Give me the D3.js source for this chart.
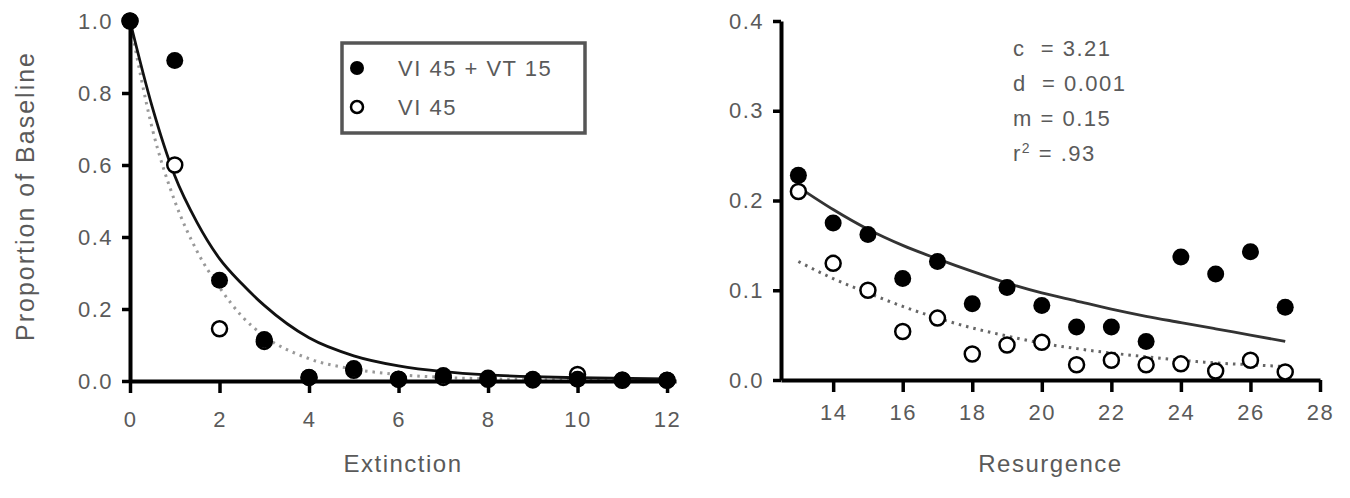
<!DOCTYPE html>
<html>
<head>
<meta charset="utf-8">
<script src="https://cdn.jsdelivr.net/npm/d3@7"></script>
<style>
  body { margin: 0; background: #fff; }
  text { font-family: "Liberation Sans", Arial, sans-serif; fill: #5a5a5a; white-space: pre; }
</style>
</head>
<body>
<svg id="canvas"></svg>
<script>
// extinction panel
const extSessions = [0, 1, 2, 3, 4, 5, 6, 7, 8, 9, 10, 11, 12];
const extVT = [1.0, 0.89, 0.28, 0.115, 0.01, 0.035, 0.005, 0.015, 0.008, 0.005, 0.005, 0.003, 0.002];
const extVI = [1.0, 0.6, 0.145, 0.11, 0.01, 0.03, 0.005, 0.01, 0.005, 0.003, 0.018, 0.002, 0.002];
// fitted curves
const extFitX = [0, 0.5, 1, 1.5, 2, 2.5, 3, 4, 5, 6, 7, 8, 9, 10, 12];
const extFitVT = [1.0, 0.76, 0.57, 0.44, 0.34, 0.27, 0.21, 0.12, 0.07, 0.042, 0.026, 0.017, 0.012, 0.009, 0.006];
const extFitVI = [1.0, 0.7, 0.5, 0.36, 0.26, 0.18, 0.125, 0.062, 0.033, 0.018, 0.01, 0.006, 0.004, 0.003, 0.002];
const extXTicks = [0, 2, 4, 6, 8, 10, 12];
const extYTicks = [0, 0.2, 0.4, 0.6, 0.8, 1.0];

// resurgence panel
const resSessions = [13, 14, 15, 16, 17, 18, 19, 20, 21, 22, 23, 24, 25, 26, 27];
const resVT = [0.228, 0.175, 0.162, 0.113, 0.132, 0.085, 0.103, 0.083, 0.059, 0.059, 0.043, 0.137, 0.118, 0.143, 0.081];
const resVI = [0.21, 0.13, 0.1, 0.054, 0.069, 0.029, 0.039, 0.042, 0.017, 0.022, 0.017, 0.018, 0.01, 0.022, 0.009];
const resFitVT = [0.215, 0.19, 0.168, 0.15, 0.135, 0.121, 0.108, 0.097, 0.088, 0.079, 0.071, 0.064, 0.057, 0.05, 0.043];
const resFitVI = [0.132, 0.113, 0.097, 0.082, 0.069, 0.058, 0.049, 0.041, 0.035, 0.03, 0.026, 0.022, 0.019, 0.017, 0.015];
const resXTicks = [14, 16, 18, 20, 22, 24, 26, 28];
const resYTicks = [0, 0.1, 0.2, 0.3, 0.4];

const legendLabels = ['VI 45 + VT 15', 'VI 45'];
const fitParams = [['c', '  = 3.21'], ['d', '  = 0.001'], ['m', ' = 0.15'], ['r', ' = .93']];

const width = 1350;
const height = 498;

const svg = d3.select('#canvas')
    .attr('width', width)
    .attr('height', height);

const styleAxis = (g) => {
    g.select('.domain').attr('stroke', '#000').attr('stroke-width', 4);
    g.selectAll('.tick line').attr('stroke', '#000').attr('stroke-width', 3.5);
    g.selectAll('.tick text')
        .attr('fill', '#666')
        .style('font-size', '22px')
        .style('letter-spacing', '1.5px')
        .style('font-family', '"Liberation Sans", Arial, sans-serif');
}

const drawPanel = (opts) => {
    const x = d3.scaleLinear().domain(opts.xDomain).range(opts.xRange);
    const y = d3.scaleLinear().domain(opts.yDomain).range(opts.yRange);

    const g = svg.append('g');

    // fitted lines
    const line = d3.line()
        .x(d => x(d[0]))
        .y(d => y(d[1]))
        .curve(d3.curveMonotoneX);

    g.append('path')
        .datum(opts.fitX.map((v, i) => [v, opts.fitVI[i]]))
        .attr('d', line)
        .attr('fill', 'none')
        .attr('stroke', opts.dotColor)
        .attr('stroke-width', 3)
        .attr('stroke-dasharray', '2.5,5');

    g.append('path')
        .datum(opts.fitX.map((v, i) => [v, opts.fitVT[i]]))
        .attr('d', line)
        .attr('fill', 'none')
        .attr('stroke', opts.solidColor)
        .attr('stroke-width', 2.8);

    const xAxis = d3.axisBottom(x)
        .tickValues(opts.xTicks)
        .tickFormat(d3.format('d'))
        .tickSize(12)
        .tickSizeOuter(0)
        .tickPadding(opts.xPad);
    const yAxis = d3.axisLeft(y)
        .tickValues(opts.yTicks)
        .tickFormat(d3.format('.1f'))
        .tickSize(8)
        .tickSizeOuter(0)
        .tickPadding(9);

    g.append('g')
        .attr('transform', 'translate(0,' + opts.yRange[0] + ')')
        .call(xAxis)
        .call(styleAxis);
    g.append('g')
        .attr('transform', 'translate(' + opts.xRange[0] + ',0)')
        .call(yAxis)
        .call(styleAxis);

    // open circles first, filled on top
    g.selectAll('.open')
        .data(opts.sessions.map((s, i) => [s, opts.vi[i]]))
        .enter()
        .append('circle')
        .attr('cx', d => x(d[0]))
        .attr('cy', d => y(d[1]))
        .attr('r', 7.5)
        .attr('fill', '#fff')
        .attr('stroke', '#000')
        .attr('stroke-width', 2.5);

    g.selectAll('.filled')
        .data(opts.sessions.map((s, i) => [s, opts.vt[i]]))
        .enter()
        .append('circle')
        .attr('cx', d => x(d[0]))
        .attr('cy', d => y(d[1]))
        .attr('r', 8.5)
        .attr('fill', '#000');

    g.append('text')
        .attr('x', (opts.xRange[0] + opts.xRange[1]) / 2)
        .attr('y', 472)
        .attr('text-anchor', 'middle')
        .style('font-size', '24px')
        .style('letter-spacing', '1.5px')
        .text(opts.title);

    return g;
}

drawPanel({
    xDomain: [0, 12.2], xRange: [130, 676],
    yDomain: [0, 1], yRange: [381, 21],
    xTicks: extXTicks, yTicks: extYTicks, xPad: 18,
    sessions: extSessions, vt: extVT, vi: extVI,
    fitX: extFitX, fitVT: extFitVT, fitVI: extFitVI,
    dotColor: '#999', solidColor: '#111',
    title: 'Extinction'
});

drawPanel({
    xDomain: [12.5, 28], xRange: [781, 1320],
    yDomain: [0, 0.4], yRange: [380, 21],
    xTicks: resXTicks, yTicks: resYTicks, xPad: 12,
    sessions: resSessions, vt: resVT, vi: resVI,
    fitX: resSessions, fitVT: resFitVT, fitVI: resFitVI,
    dotColor: '#666', solidColor: '#333',
    title: 'Resurgence'
});

// y axis title
svg.append('text')
    .attr('transform', 'translate(34,196) rotate(-90)')
    .attr('text-anchor', 'middle')
    .style('font-size', '25px')
    .style('letter-spacing', '2px')
    .text('Proportion of Baseline');

// legend
const legend = svg.append('g').attr('transform', 'translate(342,43)');
legend.append('rect')
    .attr('width', 243)
    .attr('height', 90)
    .attr('fill', '#fff')
    .attr('stroke', '#555')
    .attr('stroke-width', 3.5);

legendLabels.forEach((label, i) => {
    const cy = 25 + i * 39;
    legend.append('circle')
        .attr('cx', 15)
        .attr('cy', cy)
        .attr('r', i === 0 ? 7 : 6)
        .attr('fill', i === 0 ? '#000' : '#fff')
        .attr('stroke', '#000')
        .attr('stroke-width', i === 0 ? 0 : 2.5);
    legend.append('text')
        .attr('x', 56)
        .attr('y', cy + 8)
        .style('font-size', '22px')
        .style('letter-spacing', '1.5px')
        .text(label);
});

// fit parameters
const params = svg.append('text')
    .attr('x', 1013)
    .style('font-size', '22px')
    .style('letter-spacing', '1.5px');

fitParams.forEach((p, i) => {
    params.append('tspan')
        .attr('x', 1013)
        .attr('y', 56 + i * 35)
        .text(p[0]);
    if (p[0] === 'r') {
        params.append('tspan')
            .attr('dy', -8)
            .style('font-size', '14px')
            .text('2');
        params.append('tspan')
            .attr('dy', 8)
            .text(p[1]);
    } else {
        params.append('tspan').text(p[1]);
    }
});
</script>
</body>
</html>
